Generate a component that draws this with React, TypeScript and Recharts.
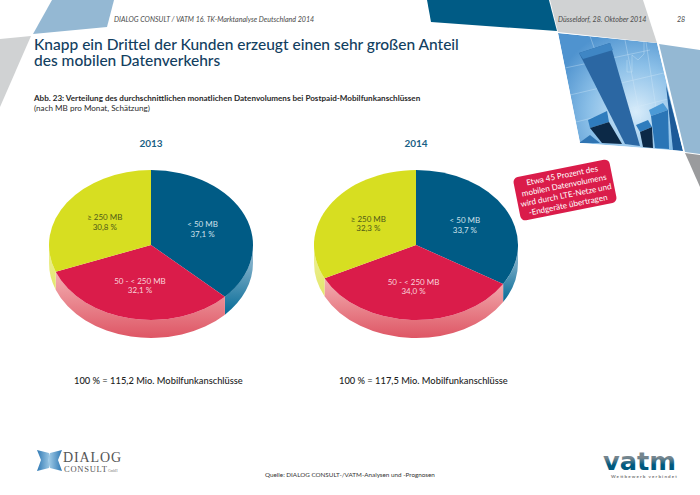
import { PieChart, Pie } from "recharts"

const categories = ["< 50 MB", "50  - < 250 MB", "≥ 250 MB"]
const share2013 = [37.1, 32.1, 30.8]
const share2014 = [33.7, 34.0, 32.3]
const sliceColors = ["#005b85", "#da1c4a", "#d7de21"]
const wallFills = ["url(#wallBlue)", "url(#wallRed)", "url(#wallYellow)"]
const labelColors = ["#cfe0ea", "#f9d3da", "#4f5a18"]

const FONT = "Lato, 'Open Sans', sans-serif"
const SQUASH = 0.735
const DEPTH = 18

const toRows = (values: number[]) =>
  categories.map((name, i) => ({
    name,
    value: values[i],
    fill: sliceColors[i],
    wall: wallFills[i],
    labelColor: labelColors[i],
  }))

const pt = (cx: number, cy: number, r: number, deg: number) => {
  const a = (deg * Math.PI) / 180
  return [cx + r * Math.cos(a), cy - r * SQUASH * Math.sin(a)]
}

// recharts only draws round pies, so the slice gets its ellipse and side wall here
function TiltedSlice(props: any) {
  const { cx, cy, outerRadius: r, startAngle, endAngle, fill, wall } = props
  const ry = r * SQUASH
  const [x1, y1] = pt(cx, cy, r, startAngle)
  const [x2, y2] = pt(cx, cy, r, endAngle)
  const large = Math.abs(startAngle - endAngle) > 180 ? 1 : 0
  const top = `M${cx},${cy}L${x1},${y1}A${r},${ry} 0 ${large} 1 ${x2},${y2}Z`

  const from = Math.min(startAngle, 0)
  const to = Math.max(endAngle, -180)
  let side = ""
  if (from > to) {
    const [ax, ay] = pt(cx, cy, r, from)
    const [bx, by] = pt(cx, cy, r, to)
    side = `M${ax},${ay}A${r},${ry} 0 0 1 ${bx},${by}L${bx},${by + DEPTH}A${r},${ry} 0 0 0 ${ax},${ay + DEPTH}Z`
  }
  return (
    <g>
      {side && <path d={side} fill={wall} />}
      <path d={top} fill={fill} />
    </g>
  )
}

function SliceLabel(props: any) {
  const { cx, cy, midAngle, outerRadius, index } = props
  const row = props.payload ?? props
  const [x, y] = pt(cx, cy, outerRadius * 0.55, midAngle)
  const pct = row.value.toFixed(1).replace(".", ",") + " %"
  return (
    <text x={x} y={y} textAnchor="middle" fontFamily={FONT} fontSize={8} fill={labelColors[index]}>
      <tspan x={x} dy={-1.5}>{row.name}</tspan>
      <tspan x={x} dy={9.5}>{pct}</tspan>
    </text>
  )
}

function Backdrop() {
  return (
    <svg width={700} height={495} style={{ position: "absolute", left: 0, top: 0 }}>
      <defs>
        <radialGradient id="photoBg" gradientUnits="userSpaceOnUse" cx="636" cy="112" r="85">
          <stop offset="0%" stopColor="#d8ecfa" />
          <stop offset="55%" stopColor="#8cc0e8" />
          <stop offset="100%" stopColor="#4f93cf" />
        </radialGradient>
        <clipPath id="photoClip">
          <polygon points="558,33 657,43 683,151 580,143" />
        </clipPath>
        <linearGradient id="vatmFill" x1="0" y1="0" x2="0" y2="1">
          <stop offset="35%" stopColor="#75858e" />
          <stop offset="60%" stopColor="#00597f" />
        </linearGradient>
        <linearGradient id="logoLeft" x1="0" y1="0" x2="1" y2="0">
          <stop offset="0%" stopColor="#2f79b4" />
          <stop offset="100%" stopColor="#a8d0ea" />
        </linearGradient>
        <linearGradient id="logoRight" x1="0" y1="0" x2="1" y2="0">
          <stop offset="0%" stopColor="#a8d0ea" />
          <stop offset="100%" stopColor="#2f79b4" />
        </linearGradient>
      </defs>
      <polygon points="52,0 114,0 107,27 33,34" fill="#94b8d3" />
      <polygon points="0,39 31,36 0,107" fill="#d0d2d3" />
      <polygon points="427,0 549,0 557,31 431,22" fill="#005b85" />
      <polygon points="550,0 643,0 657,43 558,32" fill="#d0d2d3" />

      {/* photo of the bars */}
      <g clipPath="url(#photoClip)">
        <polygon points="558,33 657,43 683,151 580,143" fill="url(#photoBg)" />
        <g stroke="#d6eaf8" strokeOpacity={0.5} strokeWidth={0.7} fill="none">
          <path d="M565,68 L650,50 M570,95 L668,72 M576,122 L672,98" />
          <path d="M590,36 L628,145 M625,40 L646,146 M646,42 L662,148" />
          <path d="M627,60 L627,72 L632,72 L632,55 L638,60 L644,54 L644,42" />
        </g>
        <polygon points="579,143 590,135 600,143" fill="#2f74b2" />
        <polygon points="579,53 610,43 640,146 625,144" fill="#2b67a3" />
        <polygon points="579,53 610,43 613,50 583,59" fill="#3f86c4" />
        <polygon points="588,120 607,111 609,122 590,128" fill="#2f7cbd" />
        <polygon points="590,128 609,122 622,144 602,143" fill="#0c2947" />
        <polygon points="636,125 648,120 652,127 640,132" fill="#2f7cbd" />
        <polygon points="640,132 652,127 653,148 643,147" fill="#0c2947" />
        <polygon points="649,110 663,103 668,110 651,116" fill="#4c9ad6" />
        <polygon points="651,116 668,110 669,149 655,148" fill="#2a75b6" />
        <polygon points="666,85 683,151 673,150" fill="#1d5a98" />
      </g>
      <polygon points="659,44 700,50 700,154 685,152" fill="#94b8d3" />
      <polygon points="685,153 700,155 700,187" fill="#9a9b9d" />

      <g fontFamily={FONT} fontSize={7.1} fontStyle="italic" fill="#4a4a4a">
        <text x={114} y={22}>DIALOG CONSULT / VATM 16. TK-Marktanalyse Deutschland 2014</text>
        <text x={558} y={22}>Düsseldorf, 28. Oktober 2014</text>
        <text x={677} y={22}>28</text>
      </g>

      <g fontFamily={FONT} fontSize={15.5} fontWeight={500} fill="#12405f">
        <text x={34} y={50}>Knapp ein Drittel der Kunden erzeugt einen sehr großen Anteil</text>
        <text x={34} y={66}>des mobilen Datenverkehrs</text>
      </g>

      <text x={34} y={101} fontFamily={FONT} fontSize={8.1} fontWeight={700} fill="#2a2a2a">
        Abb. 23: Verteilung des durchschnittlichen monatlichen Datenvolumens bei Postpaid-Mobilfunkanschlüssen
      </text>
      <text x={34} y={111} fontFamily={FONT} fontSize={8.1} fill="#2a2a2a">
        (nach MB pro Monat, Schätzung)
      </text>

      <g fontFamily={FONT} fontSize={10} fontWeight={700} fill="#1a5f85" textAnchor="middle">
        <text x={151} y={147}>2013</text>
        <text x={416} y={147}>2014</text>
      </g>

      <g fontFamily={FONT} fontSize={9.3} fontWeight={500} fill="#222">
        <text x={74} y={384}>100 % = 115,2 Mio. Mobilfunkanschlüsse</text>
        <text x={339} y={384}>100 % = 117,5 Mio. Mobilfunkanschlüsse</text>
      </g>

      <text x={265} y={477} fontFamily={FONT} fontSize={6.3} fill="#333">
        Quelle: DIALOG CONSULT-/VATM-Analysen und -Prognosen
      </text>

      {/* logos */}
      <polygon points="37,450 49,453 51,460 49,468 37,471 41,460" fill="url(#logoLeft)" />
      <polygon points="62,450 50,453 48,460 50,468 62,471 58,460" fill="url(#logoRight)" />
      <text x={63} y={462} fontFamily="'Liberation Serif', serif" fontSize={14} fill="#555" textLength={58}>DIALOG</text>
      <text x={64} y={472} fontFamily="'Liberation Serif', serif" fontSize={8.5} fill="#555" textLength={43}>CONSULT</text>
      <text x={108} y={472} fontFamily="'Liberation Serif', serif" fontSize={3.5} fill="#777">GmbH</text>
      <text x={603} y={470} fontFamily="'DejaVu Sans', sans-serif" fontSize={24} fontWeight={700} fill="url(#vatmFill)" textLength={73} lengthAdjust="spacingAndGlyphs">vatm</text>
      <text x={611} y={478} fontFamily={FONT} fontSize={4.5} fontWeight={700} fill="#777" textLength={66}>Wettbewerb verbindet</text>
    </svg>
  )
}

function Callout() {
  return (
    <svg width={700} height={495} style={{ position: "absolute", left: 0, top: 0 }}>
      <g transform="rotate(-11.3 565 190)">
        <rect x={516} y={168} width={98} height={44} rx={5} fill="#da1c4a" />
        <g fontFamily={FONT} fontSize={8.1} fill="#fff" textAnchor="middle">
          <text x={565} y={178}>Etwa 45 Prozent des</text>
          <text x={565} y={188}>mobilen Datenvolumens</text>
          <text x={565} y={198}>wird durch LTE-Netze und</text>
          <text x={565} y={208}>-Endgeräte übertragen</text>
        </g>
      </g>
    </svg>
  )
}

export default function App() {
  return (
    <div style={{ position: "fixed", left: 0, top: 0, width: 700, height: 495, background: "#fff", overflow: "hidden" }}>
      <Backdrop />
      <div style={{ position: "absolute", left: 0, top: 0 }}>
        <PieChart width={700} height={495} margin={{ top: 0, right: 0, bottom: 0, left: 0 }}>
          <defs>
            <linearGradient id="wallBlue" x1="0" y1="0" x2="0" y2="1">
              <stop offset="0%" stopColor="#a9c6da" />
              <stop offset="100%" stopColor="#046a96" />
            </linearGradient>
            <linearGradient id="wallRed" x1="0" y1="0" x2="0" y2="1">
              <stop offset="0%" stopColor="#f3b0b2" />
              <stop offset="100%" stopColor="#de5665" />
            </linearGradient>
            <linearGradient id="wallYellow" x1="0" y1="0" x2="0" y2="1">
              <stop offset="0%" stopColor="#eef09a" />
              <stop offset="100%" stopColor="#e3e76a" />
            </linearGradient>
          </defs>
          <Pie
            data={toRows(share2013)}
            dataKey="value"
            cx={151}
            cy={245}
            outerRadius={102}
            startAngle={90}
            endAngle={-270}
            stroke="none"
            shape={TiltedSlice}
            label={SliceLabel}
            labelLine={false}
            isAnimationActive={false}
          />
          <Pie
            data={toRows(share2014)}
            dataKey="value"
            cx={416}
            cy={245}
            outerRadius={102}
            startAngle={90}
            endAngle={-270}
            stroke="none"
            shape={TiltedSlice}
            label={SliceLabel}
            labelLine={false}
            isAnimationActive={false}
          />
        </PieChart>
      </div>
      <Callout />
    </div>
  )
}
